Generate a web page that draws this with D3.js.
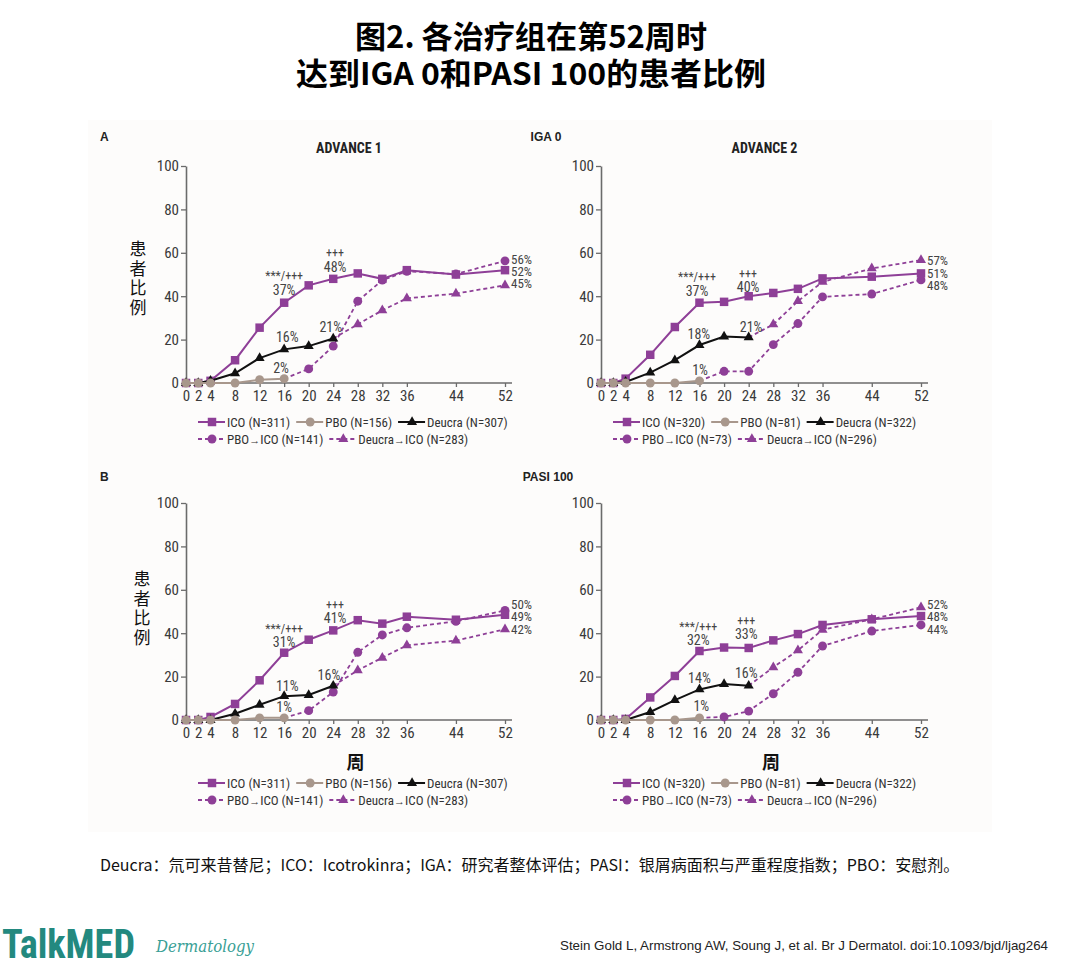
<!DOCTYPE html>
<html>
<head>
<meta charset="utf-8">
<script src="https://cdn.jsdelivr.net/npm/d3@7"></script>
<style>
  body { margin: 0; background: #fff; }
  svg { display: block; }
</style>
</head>
<body>
<div id="chart"></div>
<script>
// weeks for each series
var weeksAll = [0, 2, 4, 8, 12, 16, 20, 24, 28, 32, 36, 44, 52];
var weeksPbo = [0, 2, 4, 8, 12, 16];
var weeksDeu = [0, 2, 4, 8, 12, 16, 20, 24];
var weeksPboIco = [16, 20, 24, 28, 32, 36, 44, 52];
var weeksDeuIco = [24, 28, 32, 36, 44, 52];
var xTicks = [0, 2, 4, 8, 12, 16, 20, 24, 28, 32, 36, 44, 52];
var yTicks = [0, 20, 40, 60, 80, 100];

// IGA 0, ADVANCE 1
var igaA1Ico = [0, 0, 1, 10.5, 25.5, 37, 45, 48, 50.5, 48, 52, 50, 52];
var igaA1Pbo = [0, 0, 0, 0, 1.5, 2];
var igaA1Deu = [0, 0, 1, 4.5, 11.5, 15.5, 17, 20.5];
var igaA1PboIco = [2, 6.5, 17, 37.7, 47.4, 51.5, 50.2, 56.3];
var igaA1DeuIco = [20.5, 27, 33.5, 39, 41.2, 45];

// IGA 0, ADVANCE 2
var igaA2Ico = [0, 0, 2, 13, 25.8, 37, 37.4, 40, 41.5, 43.4, 48.2, 49, 50.5];
var igaA2Pbo = [0, 0, 0, 0, 0, 1];
var igaA2Deu = [0, 0, 0.5, 4.8, 10.5, 17.5, 21.4, 21];
var igaA2PboIco = [1, 5.4, 5.4, 17.7, 27.4, 39.7, 41, 47.5];
var igaA2DeuIco = [21, 27, 37.7, 46.6, 52.8, 56.6];

// PASI 100, ADVANCE 1
var pasiA1Ico = [0, 0, 1.4, 7.4, 18.3, 31, 37, 41.3, 46, 44.4, 47.6, 46.2, 48.5];
var pasiA1Pbo = [0, 0, 0, 0, 1, 1];
var pasiA1Deu = [0, 0, 0, 2.9, 7, 11, 11.5, 15.8];
var pasiA1PboIco = [1, 4.3, 12.9, 31.2, 39.2, 42.5, 45.5, 50.5];
var pasiA1DeuIco = [15.8, 22.9, 28.7, 34.4, 36.6, 41.8];

// PASI 100, ADVANCE 2
var pasiA2Ico = [0, 0, 0.5, 10.4, 20.3, 31.8, 33.4, 33.2, 36.7, 39.6, 43.8, 46.4, 47.9];
var pasiA2Pbo = [0, 0, 0, 0, 0, 1];
var pasiA2Deu = [0, 0, 0, 3.7, 9.2, 14.1, 16.6, 15.8];
var pasiA2PboIco = [1, 1.4, 4.1, 12.1, 22, 34.1, 41, 43.8];
var pasiA2DeuIco = [15.8, 24.3, 32.1, 41.6, 46.4, 51.9];

// legend labels
var legendA1 = ["ICO (N=311)", "PBO (N=156)", "Deucra (N=307)", "PBO\u2192ICO (N=141)", "Deucra\u2192ICO (N=283)"];
var legendA2 = ["ICO (N=320)", "PBO (N=81)", "Deucra (N=322)", "PBO\u2192ICO (N=73)", "Deucra\u2192ICO (N=296)"];

// point annotations: [week, value of the lowest line, lines]
var notesIgaA1 = [[16, 42.9, ["***/+++", "37%"]], [24.3, 53.5, ["+++", "48%"]],
  [16.5, 21.2, ["16%"]], [23.6, 25.8, ["21%"]], [15.5, 6.9, ["2%"]]];
var notesIgaA2 = [[15.6, 42.4, ["***/+++", "37%"]], [23.9, 44.2, ["+++", "40%"]],
  [15.9, 22.6, ["18%"]], [24.4, 25.8, ["21%"]], [16.1, 6, ["1%"]]];
var notesPasiA1 = [[16, 35.8, ["***/+++", "31%"]], [24.3, 46.9, ["+++", "41%"]],
  [16.5, 15.5, ["11%"]], [23.3, 20.6, ["16%"]], [16, 5.9, ["1%"]]];
var notesPasiA2 = [[15.8, 36.7, ["***/+++", "32%"]], [23.6, 39.5, ["+++", "33%"]],
  [16, 19.2, ["14%"]], [23.6, 21.6, ["16%"]], [16.3, 6.3, ["1%"]]];

// end-of-line labels at week 52, top to bottom
var endIgaA1 = ["56%", "52%", "45%"];
var endIgaA2 = ["57%", "51%", "48%"];
var endPasiA1 = ["50%", "49%", "42%"];
var endPasiA2 = ["52%", "48%", "44%"];

var purple = "#8e3f97";
var taupe = "#a8978c";
var black = "#111";
var narrow = "'Liberation Sans Narrow', 'Arial Narrow', 'Roboto Condensed', sans-serif";
var cjk = "'Noto Sans CJK SC', 'Noto Sans', sans-serif";

var svg = d3.select("#chart").append("svg")
  .attr("width", 1080)
  .attr("height", 964);

svg.append("rect")
  .attr("x", 88).attr("y", 120)
  .attr("width", 904).attr("height", 712)
  .attr("fill", "#fdfcfb");

// title (one block, two lines)
var title = svg.append("text")
  .attr("text-anchor", "middle")
  .style("font-family", cjk).style("font-weight", "bold").style("font-size", "31px")
  .attr("fill", "#000");
title.append("tspan")
  .attr("x", 531).attr("y", 48)
  .attr("textLength", 352).attr("lengthAdjust", "spacingAndGlyphs")
  .text("图2. 各治疗组在第52周时");
title.append("tspan")
  .attr("x", 531).attr("y", 85)
  .attr("textLength", 470).attr("lengthAdjust", "spacingAndGlyphs")
  .text("达到IGA 0和PASI 100的患者比例");

// section labels
function boldLabel(x, y, t, anchor) {
  svg.append("text")
    .attr("x", x).attr("y", y)
    .attr("text-anchor", anchor || "start")
    .style("font-family", "'Liberation Sans', Arial, sans-serif")
    .style("font-weight", "bold").style("font-size", "12px")
    .attr("fill", "#222")
    .text(t);
}
boldLabel(100, 141, "A");
boldLabel(546, 141, "IGA 0", "middle");
boldLabel(100, 481, "B");
boldLabel(548, 481, "PASI 100", "middle");

var panels = [
  { x0: 186, x1: 505, yTop: 166, yBot: 383, title: "ADVANCE 1", yLabel: true, weekLabel: false,
    ico: igaA1Ico, pbo: igaA1Pbo, deu: igaA1Deu, pboIco: igaA1PboIco, deuIco: igaA1DeuIco,
    legend: legendA1, notes: notesIgaA1, ends: endIgaA1, endTop: 57.1 },
  { x0: 601, x1: 921, yTop: 166, yBot: 383, title: "ADVANCE 2", yLabel: false, weekLabel: false,
    ico: igaA2Ico, pbo: igaA2Pbo, deu: igaA2Deu, pboIco: igaA2PboIco, deuIco: igaA2DeuIco,
    legend: legendA2, notes: notesIgaA2, ends: endIgaA2, endTop: 56.4 },
  { x0: 186, x1: 505, yTop: 503, yBot: 720, title: null, yLabel: true, weekLabel: true,
    ico: pasiA1Ico, pbo: pasiA1Pbo, deu: pasiA1Deu, pboIco: pasiA1PboIco, deuIco: pasiA1DeuIco,
    legend: legendA1, notes: notesPasiA1, ends: endPasiA1, endTop: 53.3 },
  { x0: 601, x1: 921, yTop: 503, yBot: 720, title: null, yLabel: false, weekLabel: true,
    ico: pasiA2Ico, pbo: pasiA2Pbo, deu: pasiA2Deu, pboIco: pasiA2PboIco, deuIco: pasiA2DeuIco,
    legend: legendA2, notes: notesPasiA2, ends: endPasiA2, endTop: 53.3 }
];

var symSquare = d3.symbol().type(d3.symbolSquare).size(72);
var symCircle = d3.symbol().type(d3.symbolCircle).size(62);
var symTri = d3.symbol().type(d3.symbolTriangle).size(44);

panels.forEach(function(p) {
  var x = d3.scaleLinear().domain([0, 52]).range([p.x0, p.x1]);
  var y = d3.scaleLinear().domain([0, 100]).range([p.yBot, p.yTop]);
  var g = svg.append("g");

  // axes
  var xAxis = d3.axisBottom(x).tickValues(xTicks).tickSize(4).tickPadding(3).tickSizeOuter(0);
  var yAxis = d3.axisLeft(y).tickValues(yTicks).tickSize(5).tickPadding(2).tickSizeOuter(0);

  var gx = g.append("g").attr("transform", "translate(0," + p.yBot + ")").call(xAxis);
  gx.select(".domain").attr("d", "M" + p.x0 + ",0H" + (p.x1 + 7));
  var gy = g.append("g").attr("transform", "translate(" + p.x0 + ",0)").call(yAxis);

  [gx, gy].forEach(function(a) {
    a.select(".domain").attr("stroke", "#6b6b6b").attr("stroke-width", 1.6);
    a.selectAll(".tick line").attr("stroke", "#6b6b6b").attr("stroke-width", 1.3);
    a.selectAll(".tick text").attr("fill", "#3a3a3a").style("font-size", "15px")
      .style("font-family", narrow);
  });

  if (p.title) {
    g.append("text")
      .attr("x", (p.x0 + p.x1 + 7) / 2).attr("y", p.yTop - 13)
      .attr("text-anchor", "middle")
      .style("font-family", narrow).style("font-weight", "bold").style("font-size", "14px")
      .attr("fill", "#222")
      .text(p.title);
  }

  if (p.yLabel) {
    // stacked vertical label, one text element
    var top = p.weekLabel ? p.yBot - 150 : p.yBot - 143;
    g.append("text")
      .attr("x", p.weekLabel ? p.x0 - 44 : p.x0 - 48)
      .attr("y", top)
      .style("writing-mode", "vertical-rl")
      .style("text-orientation", "upright")
      .style("letter-spacing", "2.7px")
      .style("font-family", cjk).style("font-size", "17px")
      .attr("fill", "#111")
      .text("患者比例");
  }

  if (p.weekLabel) {
    g.append("text")
      .attr("x", (p.x0 + p.x1) / 2 + 10).attr("y", p.yBot + 49)
      .attr("text-anchor", "middle")
      .style("font-family", cjk).style("font-weight", "bold").style("font-size", "18px")
      .attr("fill", "#111")
      .text("周");
  }

  function series(weeks, vals, color, dashed, sym, skipFirst) {
    var pts = weeks.map(function(w, i) { return [w, vals[i]]; });
    var line = d3.line().x(function(d) { return x(d[0]); }).y(function(d) { return y(d[1]); });
    g.append("path")
      .datum(pts)
      .attr("d", line)
      .attr("fill", "none")
      .attr("stroke", color)
      .attr("stroke-width", dashed ? 1.8 : 2)
      .attr("stroke-dasharray", dashed ? "4,3" : null);
    g.append("g").selectAll("path").data(skipFirst ? pts.slice(1) : pts).enter().append("path")
      .attr("d", sym)
      .attr("transform", function(d) { return "translate(" + x(d[0]) + "," + y(d[1]) + ")"; })
      .attr("fill", color);
  }

  series(weeksPboIco, p.pboIco, purple, true, symCircle, true);
  series(weeksDeuIco, p.deuIco, purple, true, symTri, true);
  series(weeksAll, p.ico, purple, false, symSquare, false);
  series(weeksDeu, p.deu, black, false, symTri, false);
  series(weeksPbo, p.pbo, taupe, false, symCircle, false);

  // annotations: significance line stacked over the percentage
  p.notes.forEach(function(n) {
    var t = g.append("text")
      .attr("text-anchor", "middle")
      .style("font-family", narrow)
      .attr("fill", "#444");
    var lines = n[2];
    lines.forEach(function(s, i) {
      var fromBottom = lines.length - 1 - i;
      t.append("tspan")
        .attr("x", x(n[0]))
        .attr("y", y(n[1]) + 5 - fromBottom * 14.5)
        .style("font-size", s.indexOf("+") >= 0 ? "12px" : "14px")
        .text(s);
    });
  });

  // end labels as one stacked text block
  var endText = g.append("text")
    .attr("y", y(p.endTop) + 4.5)
    .style("font-family", narrow).style("font-size", "13px")
    .attr("fill", "#444");
  endText.selectAll("tspan").data(p.ends).enter().append("tspan")
    .attr("x", x(52) + 6)
    .attr("dy", function(d, i) { return i === 0 ? 0 : 12.4; })
    .text(function(d) { return d; });

  // legend
  var legY1 = p.yBot + (p.weekLabel ? 63 : 39);
  var legY2 = legY1 + 17;
  var items = [
    { label: p.legend[0], color: purple, dashed: false, sym: symSquare, row: 0 },
    { label: p.legend[1], color: taupe, dashed: false, sym: symCircle, row: 0 },
    { label: p.legend[2], color: black, dashed: false, sym: symTri, row: 0 },
    { label: p.legend[3], color: purple, dashed: true, sym: symCircle, row: 1 },
    { label: p.legend[4], color: purple, dashed: true, sym: symTri, row: 1 }
  ];
  var cursor = [p.x0 + 12, p.x0 + 12];
  items.forEach(function(it) {
    var ly = it.row === 0 ? legY1 : legY2;
    var lx = cursor[it.row];
    var lg = g.append("g");
    lg.append("line")
      .attr("x1", lx).attr("x2", lx + 27)
      .attr("y1", ly).attr("y2", ly)
      .attr("stroke", it.color).attr("stroke-width", 2)
      .attr("stroke-dasharray", it.dashed ? "4,3" : null);
    lg.append("path")
      .attr("d", it.sym)
      .attr("transform", "translate(" + (lx + 14) + "," + ly + ")")
      .attr("fill", it.color);
    var t = lg.append("text")
      .attr("x", lx + 29).attr("y", ly + 4.5)
      .style("font-family", narrow).style("font-size", "13px")
      .attr("fill", "#333");
    // keep the arrow glyph small, as in the source
    it.label.split("\u2192").forEach(function(part, i) {
      if (i > 0) {
        t.append("tspan").text("\u2192")
          .style("font-family", "'Liberation Sans', sans-serif").style("font-size", "11px");
      }
      t.append("tspan").text(part);
    });
    cursor[it.row] = lx + 29 + t.node().getComputedTextLength() + 6;
  });
});

// footnote
svg.append("text")
  .attr("x", 100).attr("y", 871)
  .style("font-family", cjk).style("font-size", "16px")
  .attr("fill", "#111")
  .text("Deucra：氘可来昔替尼；ICO：Icotrokinra；IGA：研究者整体评估；PASI：银屑病面积与严重程度指数；PBO：安慰剂。");

// brand
svg.append("text")
  .attr("x", 2).attr("y", 958)
  .attr("textLength", 133).attr("lengthAdjust", "spacingAndGlyphs")
  .style("font-family", narrow)
  .style("font-weight", "bold").style("font-size", "40px")
  .attr("fill", "#23897f")
  .text("TalkMED");
svg.append("text")
  .attr("x", 156).attr("y", 952)
  .attr("textLength", 98).attr("lengthAdjust", "spacingAndGlyphs")
  .style("font-family", "'DejaVu Serif', serif")
  .style("font-style", "italic").style("font-size", "17px")
  .attr("fill", "#3a9f96")
  .text("Dermatology");

svg.append("text")
  .attr("x", 560).attr("y", 950)
  .attr("textLength", 488).attr("lengthAdjust", "spacingAndGlyphs")
  .style("font-family", "'Liberation Sans', Arial, sans-serif").style("font-size", "13px")
  .attr("fill", "#222")
  .text("Stein Gold L, Armstrong AW, Soung J, et al. Br J Dermatol. doi:10.1093/bjd/ljag264");
</script>
</body>
</html>
